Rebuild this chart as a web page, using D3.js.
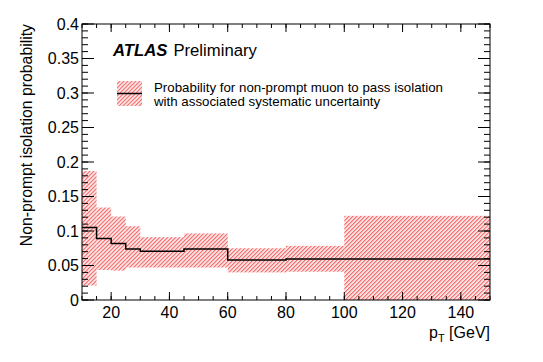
<!DOCTYPE html>
<html>
<head>
<meta charset="utf-8">
<script src="https://cdn.jsdelivr.net/npm/d3@7"></script>
<style>
  body { margin: 0; background: #fff; }
  svg text { font-family: "Liberation Sans", Arial, sans-serif; fill: #000; }
</style>
</head>
<body>
<svg id="chart"></svg>
<script>
// bin edges in pT [GeV]
const binEdges = [10, 15, 20, 25, 30, 45, 60, 80, 100, 150];
// central value of non-prompt isolation probability per bin
const probValues = [0.105, 0.089, 0.082, 0.074, 0.0705, 0.074, 0.058, 0.0595, 0.0595];
// systematic band, low / high edge per bin
const bandLow = [0.021, 0.0435, 0.0425, 0.047, 0.047, 0.047, 0.040, 0.041, 0.0];
const bandHigh = [0.187, 0.134, 0.121, 0.107, 0.091, 0.0965, 0.075, 0.0785, 0.122];

const xTicks = [20, 40, 60, 80, 100, 120, 140];
const yTicks = [0, 0.05, 0.1, 0.15, 0.2, 0.25, 0.3, 0.35, 0.4];

const W = 543, H = 362;
const margin = { top: 24, right: 53, bottom: 62, left: 82 };

const svg = d3.select('#chart').attr('width', W).attr('height', H);

const x = d3.scaleLinear().domain([10, 150]).range([margin.left, W - margin.right]);
const y = d3.scaleLinear().domain([0, 0.4]).range([H - margin.bottom, margin.top]);

// hatch pattern for the systematic band
const defs = svg.append('defs');
defs.append('pattern')
    .attr('id', 'hatch')
    .attr('patternUnits', 'userSpaceOnUse')
    .attr('width', 2.83).attr('height', 2.83)
    .attr('patternTransform', 'rotate(45)')
  .append('line')
    .attr('x1', 0.7).attr('y1', 0).attr('x2', 0.7).attr('y2', 2.83)
    .attr('stroke', '#f25c5c').attr('stroke-width', 1.2);

const bins = probValues.map((v, i) => ({
  lo: binEdges[i], hi: binEdges[i + 1], v, bl: bandLow[i], bh: bandHigh[i]
}));

svg.append('g')
  .selectAll('rect')
  .data(bins)
  .join('rect')
  .attr('x', d => x(d.lo))
  .attr('width', d => x(d.hi) - x(d.lo))
  .attr('y', d => y(d.bh))
  .attr('height', d => y(d.bl) - y(d.bh))
  .attr('fill', 'url(#hatch)');

// step line for central value
const stepPts = [];
bins.forEach(d => { stepPts.push([d.lo, d.v]); stepPts.push([d.hi, d.v]); });
svg.append('path')
  .datum(stepPts)
  .attr('fill', 'none')
  .attr('stroke', '#000')
  .attr('stroke-width', 1.5)
  .attr('d', d3.line().x(d => x(d[0])).y(d => y(d[1])));

// axes, ROOT style ticks on all four sides pointing inward
const xMinor = d3.range(10, 151, 5);
const yMinor = d3.range(0, 0.401, 0.01);

function xAxisAt(yPos, dir, labels) {
  const g = svg.append('g');
  g.selectAll('.mi').data(xMinor).join('line')
    .attr('x1', d => x(d)).attr('x2', d => x(d))
    .attr('y1', yPos).attr('y2', yPos - dir * 4)
    .attr('stroke', '#000');
  g.selectAll('.ma').data(xTicks).join('line')
    .attr('x1', d => x(d)).attr('x2', d => x(d))
    .attr('y1', yPos).attr('y2', yPos - dir * 8)
    .attr('stroke', '#000');
  if (labels) {
    g.selectAll('text').data(xTicks).join('text')
      .attr('x', d => x(d)).attr('y', yPos + 18)
      .attr('text-anchor', 'middle')
      .attr('font-size', 16)
      .text(d => d);
  }
}
function yAxisAt(xPos, dir, labels) {
  const g = svg.append('g');
  g.selectAll('.mi').data(yMinor).join('line')
    .attr('y1', d => y(d)).attr('y2', d => y(d))
    .attr('x1', xPos).attr('x2', xPos + dir * 6)
    .attr('stroke', '#000');
  g.selectAll('.ma').data(yTicks).join('line')
    .attr('y1', d => y(d)).attr('y2', d => y(d))
    .attr('x1', xPos).attr('x2', xPos + dir * 12)
    .attr('stroke', '#000');
  if (labels) {
    g.selectAll('text').data(yTicks).join('text')
      .attr('x', xPos - 3).attr('y', d => y(d) + 5.5)
      .attr('text-anchor', 'end')
      .attr('font-size', 16)
      .text(d => d3.format('~g')(d));
  }
}
xAxisAt(y(0), 1, true);
xAxisAt(y(0.4), -1, false);
yAxisAt(x(10), 1, true);
yAxisAt(x(150), -1, false);

svg.append('rect')
  .attr('x', x(10)).attr('y', y(0.4))
  .attr('width', x(150) - x(10)).attr('height', y(0) - y(0.4))
  .attr('fill', 'none').attr('stroke', '#000').attr('stroke-width', 1);

// axis titles
svg.append('text')
  .attr('transform', `translate(32,${y(0.4)}) rotate(-90)`)
  .attr('text-anchor', 'end')
  .attr('font-size', 15.8)
  .text('Non-prompt isolation probability');

const xt = svg.append('text')
  .attr('x', x(150)).attr('y', 338)
  .attr('text-anchor', 'end')
  .attr('font-size', 16);
xt.append('tspan').text('p');
xt.append('tspan').attr('font-size', 11).attr('dy', 4).text('T');
xt.append('tspan').attr('dy', -4).text(' [GeV]');

// ATLAS label
const lab = svg.append('text').attr('x', 113).attr('y', 56).attr('font-size', 16.7);
lab.append('tspan').attr('font-weight', 'bold').attr('font-style', 'italic').text('ATLAS');
lab.append('tspan').attr('dx', 6).text('Preliminary');

// legend
svg.append('rect')
  .attr('x', 117).attr('y', 81).attr('width', 25).attr('height', 25)
  .attr('fill', 'url(#hatch)');
svg.append('line')
  .attr('x1', 117).attr('x2', 142).attr('y1', 93.5).attr('y2', 93.5)
  .attr('stroke', '#000').attr('stroke-width', 1.5);
svg.append('text').attr('x', 154).attr('y', 92).attr('font-size', 13.3)
  .text('Probability for non-prompt muon to pass isolation');
svg.append('text').attr('x', 154).attr('y', 106).attr('font-size', 13.3)
  .text('with associated systematic uncertainty');
</script>
</body>
</html>
